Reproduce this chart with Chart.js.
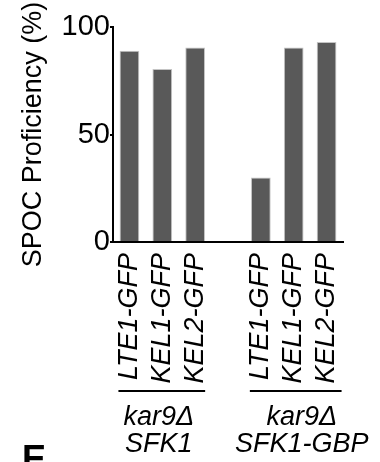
<!DOCTYPE html>
<html>
<head>
<meta charset="utf-8">
<script src="https://cdn.jsdelivr.net/npm/chart.js@4"></script>
<style>
  html, body { margin: 0; padding: 0; background: #fff; }
  #wrap { width: 380px; height: 462px; position: relative; }
</style>
</head>
<body>
<div id="wrap"><canvas id="c" width="380" height="462"></canvas></div>
<script>
// ---- data ----
const categories = ['LTE1-GFP', 'KEL1-GFP', 'KEL2-GFP', '', 'LTE1-GFP', 'KEL1-GFP', 'KEL2-GFP'];
const proficiency = [89, 80.5, 90.5, null, 30, 90.5, 93];
const yTicks = [0, 50, 100];
const groupLine1 = ['kar9\u0394', 'kar9\u0394'];
const groupLine2 = ['SFK1', 'SFK1-GBP'];
const groupStart = [0, 4];
const groupEnd = [2, 6];
const yTitle = 'SPOC Proficiency (%)';
const panelLetter = 'E';

const FONT = "'Liberation Sans', Arial, sans-serif";

const groupPlugin = {
  id: 'groups',
  afterDraw(chart) {
    const ctx = chart.ctx;
    const x = chart.scales.x;
    const textShift = [-3, 6];
    ctx.save();
    ctx.strokeStyle = '#000';
    ctx.lineWidth = 2;
    ctx.fillStyle = '#000';
    ctx.textAlign = 'center';
    ctx.textBaseline = 'alphabetic';
    ctx.font = "italic 27px " + FONT;
    for (let g = 0; g < groupStart.length; g++) {
      const x0 = x.getPixelForValue(groupStart[g]) - 11;
      const x1 = x.getPixelForValue(groupEnd[g]) + (g === 0 ? 10 : 15);
      ctx.beginPath();
      ctx.moveTo(x0, 391);
      ctx.lineTo(x1, 391);
      ctx.stroke();
      const cx = (x0 + x1) / 2 + textShift[g];
      ctx.fillText(groupLine1[g], cx, 425);
      ctx.fillText(groupLine2[g], cx, 452);
    }
    ctx.textAlign = 'left';
    ctx.font = "bold 36px " + FONT;
    ctx.fillText(panelLetter, 22, 471);
    ctx.restore();
  }
};

new Chart(document.getElementById('c'), {
  type: 'bar',
  data: {
    labels: categories,
    datasets: [{
      data: proficiency,
      backgroundColor: '#595959',
      borderColor: '#c4c4c4',
      borderWidth: 1,
      barPercentage: 0.6,
      categoryPercentage: 1.0
    }]
  },
  options: {
    responsive: false,
    animation: false,
    devicePixelRatio: 1,
    layout: { padding: { top: 27, right: 37, bottom: 0, left: 0 } },
    plugins: { legend: { display: false }, tooltip: { enabled: false } },
    scales: {
      x: {
        offset: true,
        grid: { display: false, drawTicks: false },
        border: { display: true, color: '#000', width: 2 },
        ticks: {
          autoSkip: false,
          maxRotation: 90,
          minRotation: 90,
          padding: 11,
          color: '#000',
          font: { family: FONT, size: 27, style: 'italic' }
        },
        afterFit(scale) { scale.height = 220; }
      },
      y: {
        min: 0,
        max: 100,
        afterBuildTicks(scale) { scale.ticks = yTicks.map(v => ({ value: v })); },
        grid: { display: true, drawOnChartArea: false, drawTicks: true, tickLength: 3, color: '#000', lineWidth: 2 },
        border: { display: true, color: '#000', width: 2 },
        ticks: {
          padding: 0,
          color: '#000',
          font: { family: FONT, size: 29 }
        },
        title: {
          display: true,
          text: yTitle,
          color: '#000',
          padding: { top: 17, bottom: 0 },
          font: { family: FONT, size: 27 }
        },
        afterFit(scale) { scale.width = 113; }
      }
    }
  },
  plugins: [groupPlugin]
});
</script>
</body>
</html>
